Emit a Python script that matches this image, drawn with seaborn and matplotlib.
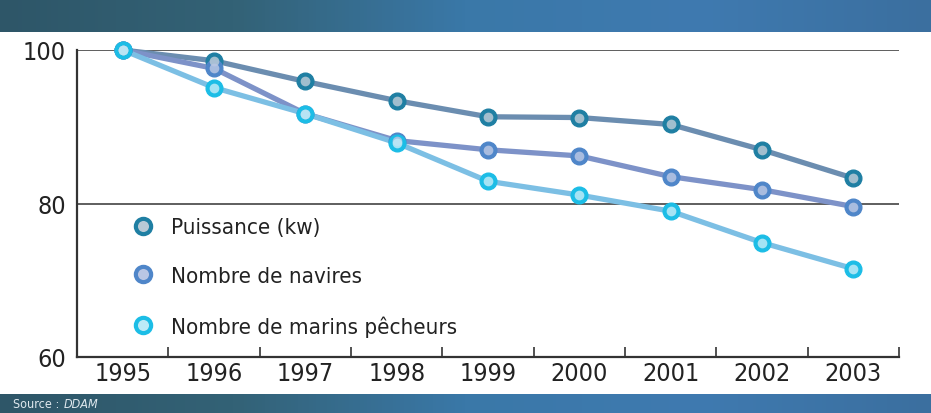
import numpy as np
import pandas as pd
import matplotlib
matplotlib.use("Agg")
import matplotlib.pyplot as plt
import seaborn as sns
from matplotlib.lines import Line2D
from matplotlib.colors import LinearSegmentedColormap

years = ["1995", "1996", "1997", "1998", "1999", "2000", "2001", "2002", "2003"]
puissance = [100, 98.6, 95.9, 93.4, 91.3, 91.2, 90.3, 87.0, 83.3]
navires = [100, 97.6, 91.7, 88.2, 87.0, 86.2, 83.5, 81.8, 79.6]
marins = [100, 95.1, 91.7, 87.9, 82.9, 81.1, 79.0, 74.9, 71.5]
series_names = ["Puissance (kw)", "Nombre de navires", "Nombre de marins pêcheurs"]
y_ticks = [60, 80, 100]

line_colors = ["#6b8db0", "#7d92c8", "#7cbfe4"]
marker_edge = ["#1f7fa3", "#4f86c9", "#1cbde6"]
marker_face = ["#b9cad6", "#b9c6e4", "#bdeaf7"]

sns.set_theme(style="white")
plt.rcParams["font.family"] = ["DejaVu Sans"]
plt.rcParams["font.stretch"] = "condensed"

fig = plt.figure(figsize=(9.31, 4.14), dpi=100)
fig.patch.set_facecolor("white")

cmap = LinearSegmentedColormap.from_list("b", ["#2e5668", "#336276", "#3a78a8", "#3f7ab0", "#3b6f9f"])
grad = np.linspace(0, 1, 256).reshape(1, -1)
top = fig.add_axes([0, 1 - 33 / 414, 1, 33 / 414])
top.imshow(grad, aspect="auto", cmap=cmap, extent=[0, 1, 0, 1])
top.axis("off")
bot = fig.add_axes([0, 0, 1, 19 / 414])
bot.imshow(grad, aspect="auto", cmap=cmap, extent=[0, 1, 0, 1])
bot.axis("off")
t1 = bot.text(13 / 931, 0.15, "Source :", color="#dfe8ee", fontsize=9, va="bottom", ha="left",
              transform=bot.transAxes)
bot.annotate("DDAM", xy=(1, 0), xycoords=t1, xytext=(3, 0), textcoords="offset points",
             color="#dfe8ee", fontsize=9, va="bottom", ha="left", style="italic")

ax = fig.add_axes([77 / 931, 56 / 414, 822 / 931, 307 / 414])

df = pd.DataFrame({
    "x": list(range(len(years))) * 3,
    "val": puissance + navires + marins,
    "serie": sum([[n] * len(years) for n in series_names], []),
})
sns.lineplot(data=df, x="x", y="val", hue="serie", palette=line_colors, linewidth=3.8,
             ax=ax, legend=False, clip_on=False, zorder=3)

for i, (vals, n) in enumerate(zip([puissance, navires, marins], series_names)):
    xs = np.arange(len(years))
    ax.plot(xs, vals, ls="none", marker="o", ms=12, mfc=marker_edge[i], mec=marker_edge[i],
            clip_on=False, zorder=5)
    ax.plot(xs, vals, ls="none", marker="o", ms=7, mfc=marker_face[i], mec="none",
            alpha=0.85, clip_on=False, zorder=6)

ax.set_xlim(-0.5, 8.5)
ax.set_ylim(60, 100)
for yv in y_ticks[1:]:
    ax.axhline(yv, color="#333333", lw=1.1, zorder=1)
ax.set_yticks(y_ticks)
ax.set_yticklabels([str(v) for v in y_ticks], fontsize=18, color="#222222")
ax.set_xticks(range(len(years)))
ax.set_xticklabels(years, fontsize=18, color="#222222")
ax.set_xticks(np.arange(0.5, 9, 1), minor=True)
ax.tick_params(axis="x", which="major", length=0, pad=3)
ax.tick_params(axis="x", which="minor", direction="in", length=7, width=1.2, color="#333333",
               bottom=True)
ax.tick_params(axis="y", length=0, pad=8)
for s in ["top", "right"]:
    ax.spines[s].set_visible(False)
for s in ["left", "bottom"]:
    ax.spines[s].set_color("#333333")
    ax.spines[s].set_linewidth(1.6)
ax.set_xlabel("")
ax.set_ylabel("")
ax.set_facecolor("white")

handles = [Line2D([], [], ls="none", marker="o", ms=11, mfc=marker_face[i], mec=marker_edge[i],
                  mew=3) for i in range(3)]
ax.legend(handles, series_names, loc="upper left", bbox_to_anchor=(0.043, 0.52), frameon=False,
          fontsize=16, labelspacing=1.3, handletextpad=0.75, handlelength=1.0,
          labelcolor="#222222")

fig.savefig("out.png", dpi=100)
